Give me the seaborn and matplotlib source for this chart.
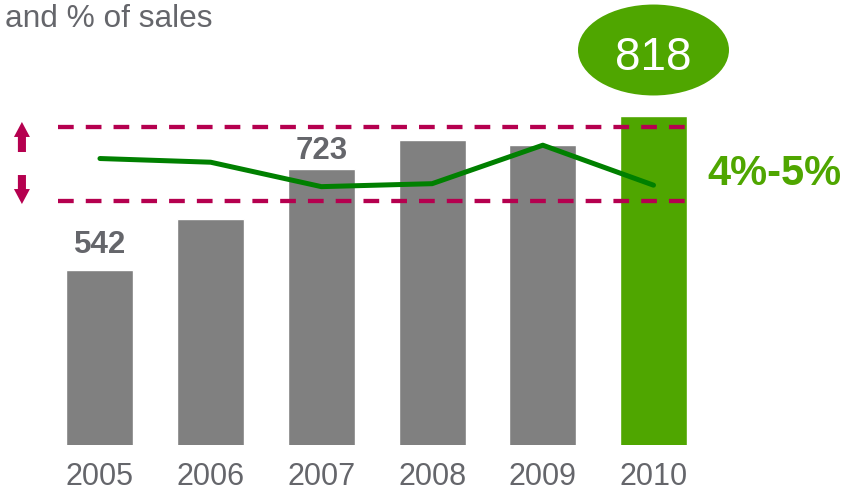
import numpy as np
import pandas as pd
import matplotlib
matplotlib.use("Agg")
import matplotlib.pyplot as plt
import seaborn as sns
from matplotlib.patches import Ellipse
from matplotlib import transforms

# Sales by year and the matching share of sales (%)
years = ["2005", "2006", "2007", "2008", "2009", "2010"]
sales = [542, 633, 723, 775, 766, 818]
pct_of_sales = [4.57, 4.52, 4.19, 4.23, 4.75, 4.21]
band = [4, 5]
band_label = "4%-5%"
subtitle = "and % of sales"
labeled_years = ["2005", "2007"]

GRAY = "#808080"
GREEN_BAR = "#4fa600"
LINE_GREEN = "#008000"
CRIMSON = "#b5004f"
TEXT = "#65666b"

sns.set_theme(style="white")
plt.rcParams["font.family"] = ["Liberation Sans", "DejaVu Sans"]

fig = plt.figure(figsize=(8.48, 4.92), dpi=100)
ax = fig.add_axes([0, 47 / 492, 1, 445 / 492])

df = pd.DataFrame({"year": years, "sales": sales})
palette = {y: GRAY for y in years}
palette[years[-1]] = GREEN_BAR
sns.barplot(data=df, x="year", y="sales", hue="year", palette=palette,
            width=0.605, saturation=1, legend=False, ax=ax)
ax.set_ylim(228.4, 1025.9)

# Percentage series on its own scale
ax2 = ax.twinx()
xs = np.arange(len(years))
sns.lineplot(x=xs, y=pct_of_sales, ax=ax2, color=LINE_GREEN, linewidth=3.6,
             solid_capstyle="round", solid_joinstyle="round")
for b in band:
    ax2.plot([-0.38, 5.33], [b, b], color=CRIMSON, lw=3.1,
             linestyle=(0, (3.65, 2.8)), dash_capstyle="butt")
ax2.set_ylim(0.699, 6.712)

ax.set_xlim(-0.903, 6.757)

# Up / down arrows beside the band
arrow_style = "simple,head_length=10.8,head_width=11.5,tail_width=5.8"
for tail, tip in [((-0.705, 4.658), (-0.705, 5.064)),
                  ((-0.705, 4.347), (-0.705, 3.955))]:
    ax2.annotate("", xy=tip, xytext=tail,
                 arrowprops=dict(arrowstyle=arrow_style, color=CRIMSON, lw=0,
                                 shrinkA=0, shrinkB=0, mutation_scale=1))

ax2.text(5.49, 4.21, band_label, ha="left", va="baseline", fontsize=30,
         fontweight="bold", color=GREEN_BAR)

# Value labels on selected bars
for yr, off in zip(labeled_years, [12.2, 7.2]):
    i = years.index(yr)
    ax.annotate(str(sales[i]), (i, sales[i]), xytext=(0, off),
                textcoords="offset points", ha="center", va="baseline",
                fontsize=22.5, fontweight="bold", color=TEXT)

# Highlight bubble over the latest year
last = len(years) - 1
bubble_tr = ax.transData + transforms.ScaledTranslation(0, 0.66, fig.dpi_scale_trans)
ax.add_patch(Ellipse((last, sales[last]), width=1.364, height=163,
                     transform=bubble_tr, facecolor=GREEN_BAR, edgecolor="none",
                     clip_on=False))
ax.annotate(str(sales[last]), (last, sales[last]), xytext=(0, 33.1),
            textcoords="offset points", ha="center", va="baseline",
            fontsize=33, color="white")

for a in (ax, ax2):
    a.set_yticks([])
    a.set_ylabel("")
    for s in a.spines.values():
        s.set_visible(False)
ax.set_xlabel("")
ax.tick_params(axis="x", length=0, pad=12.2, labelsize=22, labelcolor=TEXT)

fig.text(5 / 848, 1 - 26.7 / 492, subtitle, ha="left", va="baseline",
         fontsize=22.8, color=TEXT)

fig.savefig("out.png", dpi=100)
